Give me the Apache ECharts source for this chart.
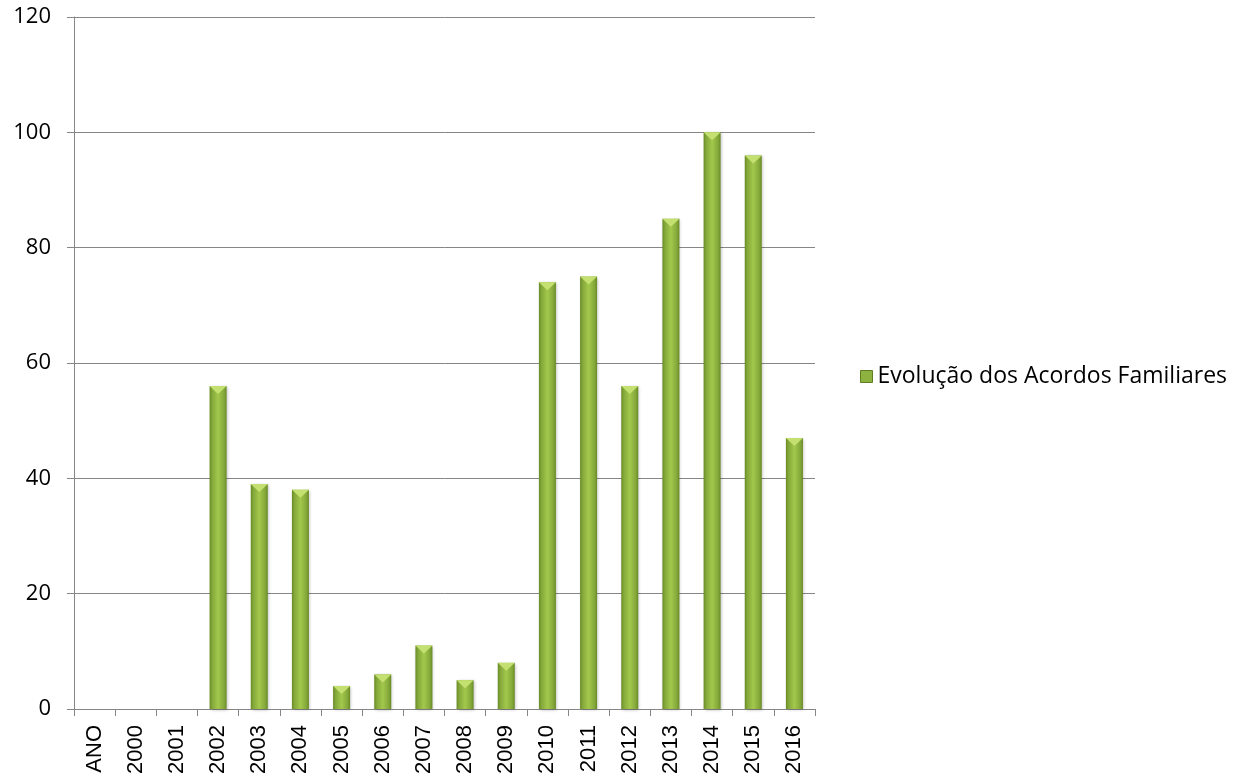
<!DOCTYPE html>
<html><head><meta charset="utf-8">
<script src="https://cdn.jsdelivr.net/npm/echarts@6/dist/echarts.min.js"></script>
<style>html,body{margin:0;padding:0;background:#fff}#c{width:1248px;height:782px}</style>
</head><body><div id="c"></div>
<script>
const categories = ['ANO','2000','2001','2002','2003','2004','2005','2006','2007','2008','2009','2010','2011','2012','2013','2014','2015','2016'];
const values = [0,0,0,56,39,38,4,6,11,5,8,74,75,56,85,100,96,47];
const seriesName = 'Evolução dos Acordos Familiares';
const yTicks = [0,20,40,60,80,100,120];

const chart = echarts.init(document.getElementById('c'), null, {renderer:'canvas'});
const barGrad = new echarts.graphic.LinearGradient(0,0,1,0,[
  {offset:0,color:'#688a25'},{offset:0.15,color:'#84a83a'},{offset:0.5,color:'#a3c84c'},{offset:0.85,color:'#84a83a'},{offset:1,color:'#688a25'}
]);
chart.setOption({
  animation:false,
  grid:{left:74,right:433,top:17,bottom:73,containLabel:false},
  legend:{
    data:[{name:seriesName,icon:'rect',itemStyle:{color:'#8db23f',borderColor:'#5f7d22',borderWidth:1}}],
    orient:'vertical', left:855, top:360,
    itemWidth:12,itemHeight:12,itemGap:4,
    textStyle:{fontFamily:'Open Sans',fontSize:23,color:'#000'}
  },
  xAxis:{
    type:'category',data:categories,boundaryGap:true,
    axisLine:{lineStyle:{color:'#868686',width:1}},
    axisTick:{show:true,length:7,alignWithLabel:false,lineStyle:{color:'#868686'}},
    axisLabel:{rotate:90,fontFamily:'Liberation Sans',fontSize:22,color:'#000',margin:16,interval:0}
  },
  yAxis:{
    type:'value',min:yTicks[0],max:yTicks[yTicks.length-1],interval:20,
    axisLine:{show:true,lineStyle:{color:'#868686'}},
    axisTick:{show:true,length:7,inside:false,lineStyle:{color:'#868686'}},
    axisLabel:{fontFamily:'Open Sans',fontSize:22,color:'#000',margin:23},
    splitLine:{show:true,lineStyle:{color:'#868686',width:1}}
  },
  series:[
    {name:seriesName,type:'bar',data:values,barWidth:17,
     itemStyle:{color:barGrad,shadowColor:'rgba(0,0,0,0.25)',shadowBlur:3,shadowOffsetX:1,shadowOffsetY:1}},
    {name:'bevel',type:'pictorialBar',data:values.map(v=>v>0?v:'-'),
     symbol:'path://M0,0 L10,0 L5,5 Z',symbolSize:[17,8],symbolPosition:'end',
     itemStyle:{color:'#c4e070'},z:5,silent:true}
  ]
});
</script></body></html>
